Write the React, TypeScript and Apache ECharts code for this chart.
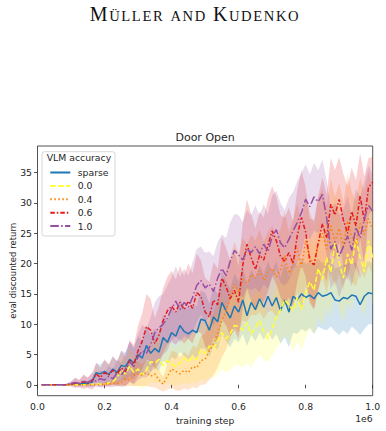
import React, { useEffect, useRef } from "react";
import * as echarts from "echarts";

// Evaluation checkpoints (environment steps)
const steps: number[] = [
  12500, 25000, 37500, 50000, 62500, 75000, 87500, 100000,
  112500, 125000, 137500, 150000, 162500, 175000, 187500, 200000,
  212500, 225000, 237500, 250000, 262500, 275000, 287500, 300000,
  312500, 325000, 337500, 350000, 362500, 375000, 387500, 400000,
  412500, 425000, 437500, 450000, 462500, 475000, 487500, 500000,
  512500, 525000, 537500, 550000, 562500, 575000, 587500, 600000,
  612500, 625000, 637500, 650000, 662500, 675000, 687500, 700000,
  712500, 725000, 737500, 750000, 762500, 775000, 787500, 800000,
  812500, 825000, 837500, 850000, 862500, 875000, 887500, 900000,
  912500, 925000, 937500, 950000, 962500, 975000, 987500, 1000000,
];

const seriesNames: string[] = ["sparse", "0.0", "0.4", "0.6", "1.0"];

// Mean eval discounted return per reward setting
const sparseMean: number[] = [
  0, 0, 0, 0, 0, 0, 0, 0.1,
  0.2, 0.1, 0.3, 0.2, 0.4, 2.0, 1.8, 2.2,
  1.7, 2.6, 2.0, 3.2, 3.0, 4.2, 3.6, 5.0,
  4.4, 6.5, 5.2, 6.0, 5.4, 7.8, 7.0, 8.6,
  8.0, 9.8, 8.8, 8.4, 9.0, 8.6, 10.8, 10.6,
  9.0, 11.2, 10.4, 13.6, 12.2, 11.0, 13.0, 12.0,
  14.0, 11.4, 13.6, 12.4, 14.2, 12.8, 14.6, 13.0,
  14.4, 12.2, 14.0, 12.0, 14.6, 14.0, 15.0, 14.4,
  14.8, 14.2, 15.2, 14.6, 14.8, 15.2, 14.0, 13.8,
  14.4, 14.2, 14.8, 14.6, 13.2, 14.6, 15.2, 15.0,
];
const acc00Mean: number[] = [
  0, 0, 0, 0, 0, 0, 0, 0,
  0, 0, 0, 0, 0.1, 0.1, 0.1, 0.1,
  0.3, 0.5, 1.2, 2.4, 1.8, 3.1, 2.0, 2.6,
  1.6, 2.4, 3.8, 3.6, 4.2, 3.2, 4.0, 3.4,
  3.0, 3.6, 4.4, 3.8, 4.6, 4.2, 5.8, 5.2,
  6.4, 6.0, 7.2, 8.6, 7.6, 8.4, 9.8, 9.6,
  9.0, 10.2, 8.4, 9.4, 10.6, 8.8, 7.6, 9.2,
  11.2, 12.4, 14.0, 13.2, 12.2, 14.4, 12.4, 15.2,
  17.0, 15.6, 19.2, 17.4, 21.0, 18.6, 23.4, 20.2,
  17.6, 21.6, 19.8, 24.0, 21.0, 18.6, 23.8, 21.0,
];
const acc04Mean: number[] = [
  0, 0, 0, 0, 0, 0, 0, 0,
  0, 0, 0, 0, 0, 0, 0, 0.2,
  0.1, 0.3, 0.2, 0.4, 1.0, 0.8, 1.6, 1.8,
  1.6, 2.0, 1.4, 1.8, 0.8, 0.1, 1.4, 2.6,
  2.2, 1.8, 2.4, 2.0, 3.0, 2.8, 4.0, 4.2,
  5.6, 6.8, 8.4, 10.6, 12.2, 14.4, 16.6, 15.2,
  17.4, 16.8, 18.2, 17.6, 18.8, 17.2, 18.6, 19.2,
  17.8, 19.0, 21.4, 18.4, 20.2, 22.6, 19.4, 23.8,
  21.2, 19.6, 23.2, 25.0, 22.4, 26.2, 23.6, 25.8,
  22.8, 27.0, 24.4, 23.2, 26.6, 24.8, 27.4, 25.6,
];
const acc06Mean: number[] = [
  0, 0, 0, 0, 0, 0, 0, 0.1,
  0.3, 0.2, 0.5, 0.3, 0.6, 1.8, 1.2, 2.0,
  1.6, 2.4, 1.8, 2.8, 2.2, 4.0, 3.4, 5.6,
  7.2, 9.6, 9.0, 6.8, 8.2, 10.6, 12.2, 13.0,
  12.0, 13.6, 12.4, 13.8, 12.6, 15.2, 14.6, 12.0,
  11.2, 14.0, 13.2, 17.6, 16.2, 14.2, 15.6, 13.6,
  19.8, 23.2, 21.0, 19.0, 21.4, 20.6, 23.0, 25.4,
  23.8, 21.2, 20.4, 21.8, 20.0, 24.6, 27.6, 25.2,
  20.4, 19.8, 23.4, 26.6, 24.2, 29.8, 28.0, 30.6,
  27.2, 25.0, 28.6, 26.2, 31.2, 27.0, 32.6, 33.4,
];
const acc10Mean: number[] = [
  0, 0, 0, 0, 0, 0, 0, 0.2,
  0.4, 0.2, 0.6, 0.4, 0.8, 0.6, 1.0, 0.8,
  1.4, 1.0, 2.0, 1.6, 2.6, 3.8, 3.0, 4.6,
  5.6, 5.2, 6.6, 8.6, 9.4, 10.0, 11.0, 12.6,
  13.8, 12.4, 13.6, 12.8, 14.4, 16.4, 17.2, 16.0,
  16.6, 15.4, 17.6, 19.2, 18.0, 20.4, 22.2, 21.4,
  20.6, 22.4, 21.8, 22.8, 21.6, 23.2, 22.0, 24.4,
  25.6, 23.4, 22.6, 24.0, 25.4, 26.8, 28.4, 30.6,
  29.4, 31.0, 30.2, 31.4, 27.6, 22.4, 23.6, 21.2,
  22.8, 24.6, 22.2, 26.0, 24.2, 27.4, 29.6, 28.6,
];

// Standard deviation across seeds
const sparseStd: number[] = [
  0, 0, 0, 0, 0, 0, 0.1,
  0.2, 0.3, 0.3, 0.5, 0.4, 0.6,
  1.6, 1.5, 1.8, 1.6, 2.0, 1.9, 2.4,
  2.3, 2.8, 2.6, 3.0, 2.8, 3.4, 3.0, 3.3, 3.1, 3.8,
  3.6, 4.0, 3.8, 4.4, 4.0, 4.2, 4.0, 4.4, 4.8, 4.6,
  4.4, 4.8, 4.6, 5.2, 5.0, 4.8, 5.4, 5.0, 5.6, 5.0,
  5.4, 5.2, 5.6, 5.4, 5.8, 5.6, 6.0, 5.4, 6.2, 5.8,
  6.0, 5.6, 5.8, 5.6, 5.4, 5.8, 5.6, 5.4, 5.8, 5.6,
  5.2, 5.6, 5.4, 5.8, 5.2, 5.6, 5.0, 5.4, 5.2, 5.0,
];
const acc00Std: number[] = [
  0, 0, 0, 0, 0, 0, 0, 0, 0, 0, 0, 0, 0, 0.1, 0.1, 0.2,
  0.4, 0.6, 1.4, 2.4, 2.0, 3.0, 2.4, 2.8,
  2.2, 2.6, 3.4, 3.4, 3.8, 3.2, 3.6, 3.4,
  3.2, 3.6, 4.0, 3.8, 4.2, 4.0, 4.8, 4.6,
  5.0, 5.0, 5.4, 6.0, 5.6, 6.0, 6.6, 6.4, 6.2, 6.6,
  5.6, 5.4, 5.6, 4.8, 3.8, 4.4, 5.2, 5.4, 6.0, 5.8,
  6.8, 7.2, 6.8, 7.4, 7.8, 7.2, 8.0, 7.6, 8.2, 7.6,
  8.4, 7.8, 7.2, 8.0, 7.6, 8.4, 7.8, 7.4, 8.2, 7.8,
];
const acc04Std: number[] = [
  0, 0, 0, 0, 0, 0, 0, 0, 0, 0, 0, 0, 0, 0, 0,
  0.3, 0.2, 0.4, 0.3, 0.6,
  1.2, 1.0, 1.8, 2.0, 1.8, 2.2, 1.8, 2.2, 1.6, 1.2,
  2.2, 3.0, 3.2, 2.8, 3.0, 2.8, 3.4, 3.4, 4.0, 4.2,
  4.8, 5.2, 5.6, 6.0, 6.4, 6.8, 7.0, 6.6, 6.8, 6.4,
  6.6, 6.2, 6.8, 6.4, 6.6, 7.0, 6.6, 6.8, 7.2, 6.8,
  7.0, 7.4, 7.0, 7.6, 7.2, 7.0, 7.6, 7.4, 7.2, 7.8,
  7.4, 7.6, 7.2, 7.8, 7.4, 7.0, 7.6, 7.2, 7.8, 7.4,
];
const acc06Std: number[] = [
  0, 0, 0, 0, 0, 0, 0.2,
  0.4, 0.8, 0.6, 1.2, 0.8, 1.4,
  1.8, 1.6, 2.2, 1.8, 2.4, 2.0, 2.8,
  2.4, 3.4, 3.2, 4.2, 4.6, 5.4, 5.2, 4.2, 4.8, 5.4,
  5.6, 5.8, 5.4, 6.0, 5.6, 6.2, 5.8, 6.4, 6.0, 5.6,
  5.8, 6.2, 6.0, 6.8, 6.4, 6.2, 6.6, 6.0, 7.0, 7.4,
  7.2, 6.8, 7.2, 7.0, 7.6, 7.4, 7.2, 6.8, 7.2, 7.4,
  7.0, 7.6, 7.8, 7.4, 7.0, 7.4, 7.8, 7.6, 7.2, 7.6,
  7.4, 7.0, 7.6, 7.8, 7.2, 7.6, 7.0, 7.4, 4.8, 4.2,
];
const acc10Std: number[] = [
  0, 0, 0, 0, 0, 0, 0.2,
  0.4, 0.8, 0.6, 1.0, 0.8, 1.2,
  1.0, 1.4, 1.2, 1.8, 1.4, 2.2, 2.0,
  2.8, 3.4, 3.0, 3.8, 4.4, 4.0, 4.6, 5.0, 5.2, 5.0,
  5.4, 5.2, 5.8, 5.4, 5.6, 5.2, 5.8, 6.0, 5.6, 5.8,
  5.4, 5.8, 6.0, 5.6, 6.2, 6.4, 6.0, 6.6, 6.2, 6.4,
  6.2, 6.8, 6.4, 6.6, 6.2, 6.8, 6.4, 6.6, 6.2, 6.8,
  6.4, 6.8, 6.6, 5.8, 5.4, 5.6, 5.2, 5.8, 6.2, 6.6,
  6.4, 6.8, 6.2, 6.6, 6.0, 6.4, 6.8, 6.2, 6.6, 6.0,
];

const yTicks: number[] = [0, 5, 10, 15, 20, 25, 30, 35];

const means: number[][] = [sparseMean, acc00Mean, acc04Mean, acc06Mean, acc10Mean];
const stds: number[][] = [sparseStd, acc00Std, acc04Std, acc06Std, acc10Std];
const colors: string[] = ["#1f77b4", "#ffff33", "#ff7f00", "#e41a1c", "#984ea3"];
const bandColors: string[] = [
  "rgba(31,119,180,0.2)",
  "rgba(255,255,51,0.2)",
  "rgba(255,127,0,0.2)",
  "rgba(228,26,28,0.2)",
  "rgba(152,78,163,0.2)",
];
const dashes: (string | number[])[] = ["solid", [5.5, 2.4], [1.5, 2.5], [4.5, 2, 1.5, 2], [8.5, 2.4, 1.5, 2.4]];

const FONT = "DejaVu Sans";
const INK = "#262626";
const SERIF = "Liberation Serif";

// Running header set in small capitals: each letter is its own token so it can be spaced out
function smallCapsHeader(): { text: string; rich: any } {
  const words: [string, string][] = [["M", "ÜLLER"], ["", "AND"], ["K", "UDENKO"]];
  const parts: string[] = [];
  words.forEach(([cap, rest], w) => {
    if (w > 0) parts.push("{sp| }");
    if (cap) parts.push(`{b|${cap}}`);
    rest.split("").forEach((ch) => parts.push(`{s|${ch}}`));
  });
  return {
    text: parts.join(""),
    rich: {
      b: { fontFamily: SERIF, fontSize: 20, fill: "#111111", padding: [0, 1.6, 0, 0] },
      s: { fontFamily: SERIF, fontSize: 14.6, fill: "#111111", padding: [3, 1.6, 0, 0] },
      sp: { fontFamily: SERIF, fontSize: 14.6, fill: "#111111", padding: [3, 2.5, 0, 0] },
    },
  };
}

function buildSeries(): any[] {
  const out: any[] = [];
  seriesNames.forEach((name, k) => {
    const mean = means[k];
    const sd = stds[k];
    out.push({
      name,
      type: "line",
      data: steps.map((x, i) => [x, mean[i]]),
      symbol: "none",
      lineStyle: { color: colors[k], width: 1.5, type: dashes[k] },
      itemStyle: { color: colors[k] },
      z: 2,
    });
    // mean ± std band as one polygon through the cartesian coordinate system
    out.push({
      name: name + " band",
      type: "custom",
      data: [[steps[0], mean[0]]],
      silent: true,
      clip: true,
      z: 2,
      renderItem: (_params: any, api: any) => {
        const pts: number[][] = [];
        for (let i = 0; i < steps.length; i++) pts.push(api.coord([steps[i], mean[i] + sd[i]]));
        for (let i = steps.length - 1; i >= 0; i--) pts.push(api.coord([steps[i], mean[i] - sd[i]]));
        return {
          type: "polygon",
          shape: { points: pts },
          style: { fill: bandColors[k], stroke: "none" },
        };
      },
    });
  });
  return out;
}

export default function App() {
  const ref = useRef<HTMLDivElement>(null);

  useEffect(() => {
    if (!ref.current) return;
    const chart = echarts.init(ref.current, undefined, { renderer: "svg" });
    const header = smallCapsHeader();
    chart.setOption({
      animation: false,
      backgroundColor: "#ffffff",
      grid: {
        left: 37.5,
        right: 13.3,
        top: 146,
        bottom: 35.3,
        containLabel: false,
        outerBoundsMode: "none",
        show: true,
        borderColor: INK,
        borderWidth: 0.8,
        backgroundColor: "transparent",
      },
      xAxis: {
        type: "value",
        min: 0,
        max: 1000000,
        interval: 200000,
        name: "training step",
        nameLocation: "middle",
        nameGap: 18,
        nameTextStyle: { fontFamily: FONT, fontSize: 9.2, color: INK },
        axisLine: { show: false },
        axisTick: { show: true, length: 3.5, lineStyle: { color: INK, width: 0.8 } },
        axisLabel: {
          fontFamily: FONT,
          fontSize: 9.3,
          color: INK,
          margin: 6,
          formatter: (v: number) => (v / 1000000).toFixed(1),
        },
        splitLine: { show: false },
      },
      yAxis: {
        type: "value",
        min: -1.8,
        max: 39.4,
        name: "eval discounted return",
        nameLocation: "middle",
        nameGap: 20.5,
        nameMoveOverlap: false,
        nameRotate: 90,
        nameTextStyle: { fontFamily: FONT, fontSize: 8.5, color: INK },
        axisLine: { show: false },
        axisTick: { show: true, length: 3.5, customValues: yTicks, lineStyle: { color: INK, width: 0.8 } },
        axisLabel: { fontFamily: FONT, fontSize: 9.3, color: INK, margin: 5.5, customValues: yTicks },
        splitLine: { show: false },
      },
      legend: {
        data: seriesNames,
        orient: "vertical",
        left: 49.3,
        top: 167,
        padding: 0,
        itemWidth: 20,
        itemHeight: 8,
        itemGap: 2.4,
        itemStyle: { color: "transparent", borderColor: "transparent", borderWidth: 0 },
        textStyle: { fontFamily: FONT, fontSize: 9.3, color: INK, lineHeight: 11, padding: [0, 0, 0, 2.4] },
        selectedMode: false,
        z: 6,
      },
      graphic: [
        {
          type: "text",
          x: 195,
          y: 14.2,
          style: {
            text: header.text,
            rich: header.rich,
            align: "center",
            verticalAlign: "middle",
            fill: "#111111",
          },
        },
        {
          type: "text",
          x: 205.1,
          y: 137.7,
          style: {
            text: "Door Open",
            align: "center",
            verticalAlign: "middle",
            fontFamily: FONT,
            fontSize: 11,
            fill: INK,
          },
        },
        {
          type: "rect",
          z: 5,
          shape: { x: 42, y: 151.7, width: 73, height: 84.3, r: 2.5 },
          style: { fill: "rgba(255,255,255,0.8)", stroke: "#cccccc", lineWidth: 0.8 },
        },
        {
          type: "text",
          z: 7,
          x: 46.7,
          y: 157.6,
          style: {
            text: "VLM accuracy",
            align: "left",
            verticalAlign: "middle",
            fontFamily: FONT,
            fontSize: 9.3,
            fill: INK,
          },
        },
        {
          type: "text",
          x: 372.7,
          y: 418.3,
          style: {
            text: "1e6",
            align: "right",
            verticalAlign: "middle",
            fontFamily: FONT,
            fontSize: 9.3,
            fill: INK,
          },
        },
      ],
      series: buildSeries(),
    });
    return () => chart.dispose();
  }, []);

  return <div ref={ref} style={{ width: 386, height: 431, position: "absolute", left: 0, top: 0 }} />;
}
